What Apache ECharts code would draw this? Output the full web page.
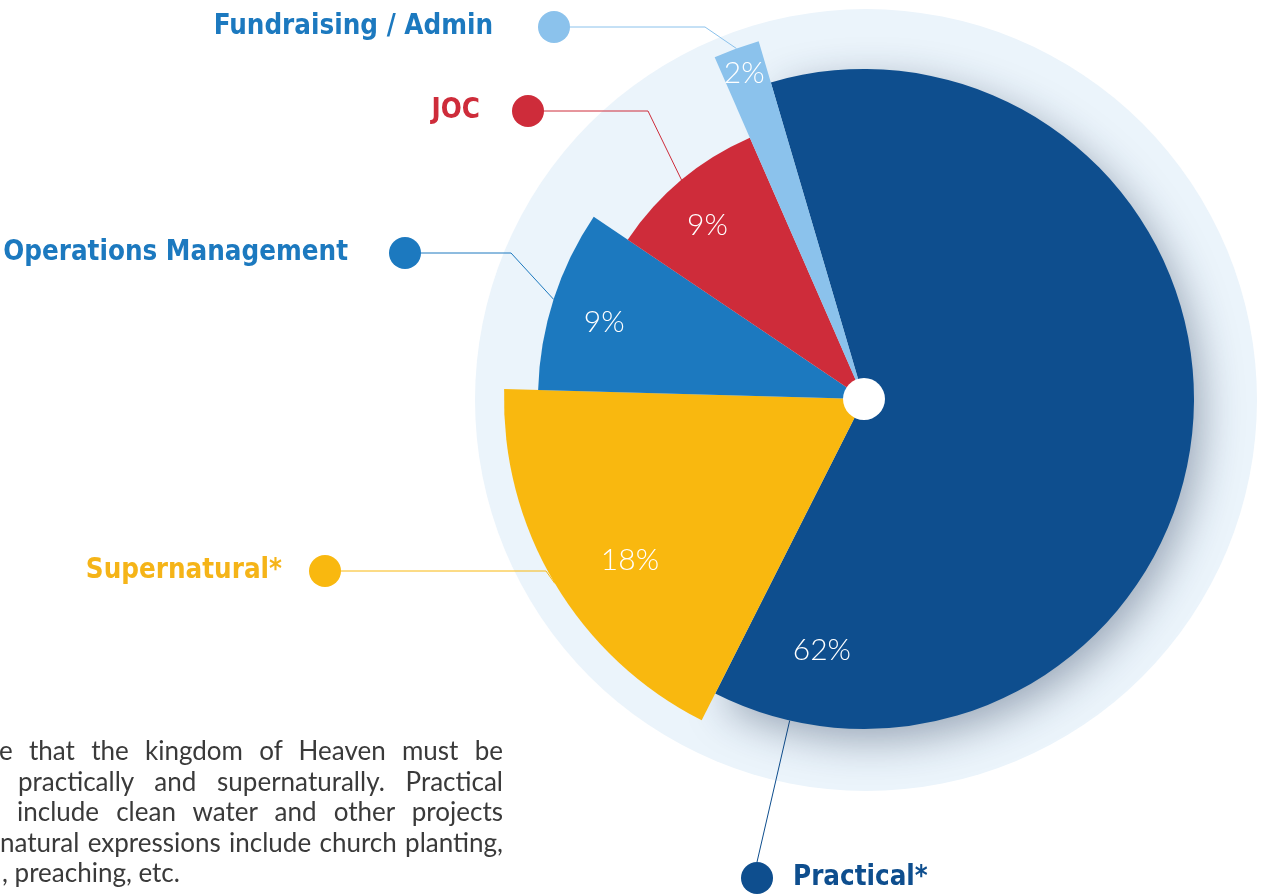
<!DOCTYPE html>
<html>
<head>
<meta charset="utf-8">
<script src="https://cdn.jsdelivr.net/npm/echarts@6/dist/echarts.min.js"></script>
<style>
  html, body { margin: 0; padding: 0; background: #fff; overflow: hidden; }
  #chart { width: 1261px; height: 895px; }
  .note { position: absolute; left: 0; top: 735px; width: 503px;
          font-family: Lato, 'Open Sans', sans-serif; font-size: 26px; color: #3a3a3a; line-height: 30.5px; }
  .note div { text-align: justify; text-align-last: justify; white-space: nowrap; }
  .note div.last { text-align-last: left; }
</style>
</head>
<body>
<div id="chart"></div>
<div class="note">
  <div style="margin-left:-1px">e that the kingdom of Heaven must be</div>
  <div style="margin-left:18px">practically and supernaturally. Practical</div>
  <div style="margin-left:17px">include clean water and other projects</div>
  <div>natural expressions include church planting,</div>
  <div class="last" style="margin-left:2px">, preaching, etc.</div>
</div>
<script>
// data
var names = ['Practical*', 'Supernatural*', 'Operations Management', 'JOC', 'Fundraising / Admin'];
var values = [62, 18, 9, 9, 2];

// styling
var sliceColors = ['#0e4e8e', '#f9b80f', '#1c79bf', '#ce2c3a', '#8bc2ec'];
var textColors = ['#0e4e8e', '#f5b418', '#1c79bf', '#ce2c3a', '#1c79bf'];
var sliceRadius = [330, 360, 326, 285, 373];
var labelAt = [[741, 878], [341, 571], [421, 253], [544, 111], [570, 27]];
var lineLen = [0, 205, 90, 104, 135];
var gapW = [20, 27, 41, 32, 45];
var pctRadius = [255, 284, 271, 234, 347];
var pctTurn = [-94.3, 3.7, 1.3, 2.2, 0.2]; // nudge of each number off the slice's middle
var CX = 864, CY = 399, START = 106.4;

var total = values.reduce(function (a, b) { return a + b; }, 0);
var midAngle = [];
var acc = 0;
values.forEach(function (v, i) {
  midAngle.push(START - (acc + v / 2) / total * 360 + pctTurn[i]);
  acc += v;
});

var nameFont = "'DejaVu Sans Condensed', 'DejaVu Sans', sans-serif";

var series = [];
// light disc behind the pie
series.push({
  type: 'pie', silent: true, center: [866, 400], radius: 391, z: 1,
  label: { show: false }, labelLine: { show: false },
  data: [{ value: 1, itemStyle: { color: '#ebf4fb' } }]
});

names.forEach(function (nm, k) {
  series.push({
    type: 'pie',
    name: nm,
    silent: true,
    z: 2,
    center: [CX, CY],
    radius: [0, sliceRadius[k]],
    startAngle: START,
    avoidLabelOverlap: false,
    data: names.map(function (n, i) {
      return {
        name: n,
        value: values[i],
        itemStyle: i === k ? {
          color: sliceColors[k],
          shadowBlur: k === 0 ? 40 : 0,
          shadowColor: 'rgba(25,45,75,0.38)',
          shadowOffsetX: k === 0 ? 8 : 0,
          shadowOffsetY: k === 0 ? 12 : 0
        } : { color: 'rgba(0,0,0,0)' },
        label: { show: i === k },
        labelLine: { show: i === k }
      };
    }),
    label: {
      position: 'outside',
      formatter: k === 0 ? '{d|}{g|}{n|{b}}' : '{n|{b}}{g|}{d|}',
      rich: {
        n: { fontFamily: nameFont, fontStyle: 'condensed', fontWeight: 'bold', fontSize: 27.5, color: textColors[k] },
        g: { width: gapW[k] },
        d: { width: 32, height: 32, borderRadius: 16, backgroundColor: sliceColors[k] }
      }
    },
    labelLine: {
      length: 20,
      length2: lineLen[k],
      minTurnAngle: 0,
      lineStyle: { color: sliceColors[k], width: 1 }
    },
    labelLayout: function (p) {
      if (p.dataIndex !== k) return;
      var out = { x: labelAt[k][0], y: labelAt[k][1], verticalAlign: 'middle' };
      if (k === 0) {
        var tx = labelAt[k][0] + 16, ty = labelAt[k][1] - 16;
        var dx = tx - CX, dy = ty - CY, len = Math.sqrt(dx * dx + dy * dy);
        var ax = CX + dx / len * sliceRadius[k], ay = CY + dy / len * sliceRadius[k];
        out.align = 'left';
        out.labelLinePoints = [[ax, ay], [tx, ty], [tx, ty]];
      } else {
        out.align = 'right';
      }
      return out;
    }
  });
});

// white hub
series.push({
  type: 'pie', silent: true, center: [CX, CY], radius: 21, z: 4,
  label: { show: false }, labelLine: { show: false },
  data: [{ value: 1, itemStyle: { color: '#ffffff' } }]
});

// percentages
series.push({
  type: 'pie', silent: true, center: [CX, CY], radius: [0, 380], startAngle: START, z: 5,
  avoidLabelOverlap: false,
  data: names.map(function (n, i) { return { name: n, value: values[i] }; }),
  itemStyle: { color: 'rgba(0,0,0,0)' },
  label: {
    show: true, position: 'inside', formatter: '{d}%',
    color: '#ffffff', fontFamily: 'Lato, sans-serif', fontWeight: 300, fontSize: 30
  },
  labelLine: { show: false },
  labelLayout: function (p) {
    var a = midAngle[p.dataIndex] * Math.PI / 180, r = pctRadius[p.dataIndex];
    return { x: CX + r * Math.cos(a), y: CY - r * Math.sin(a), align: 'center', verticalAlign: 'middle' };
  }
});

var myChart = echarts.init(document.getElementById('chart'));
myChart.setOption({
  animation: false,
  backgroundColor: '#ffffff',
  series: series
});
</script>
</body>
</html>
